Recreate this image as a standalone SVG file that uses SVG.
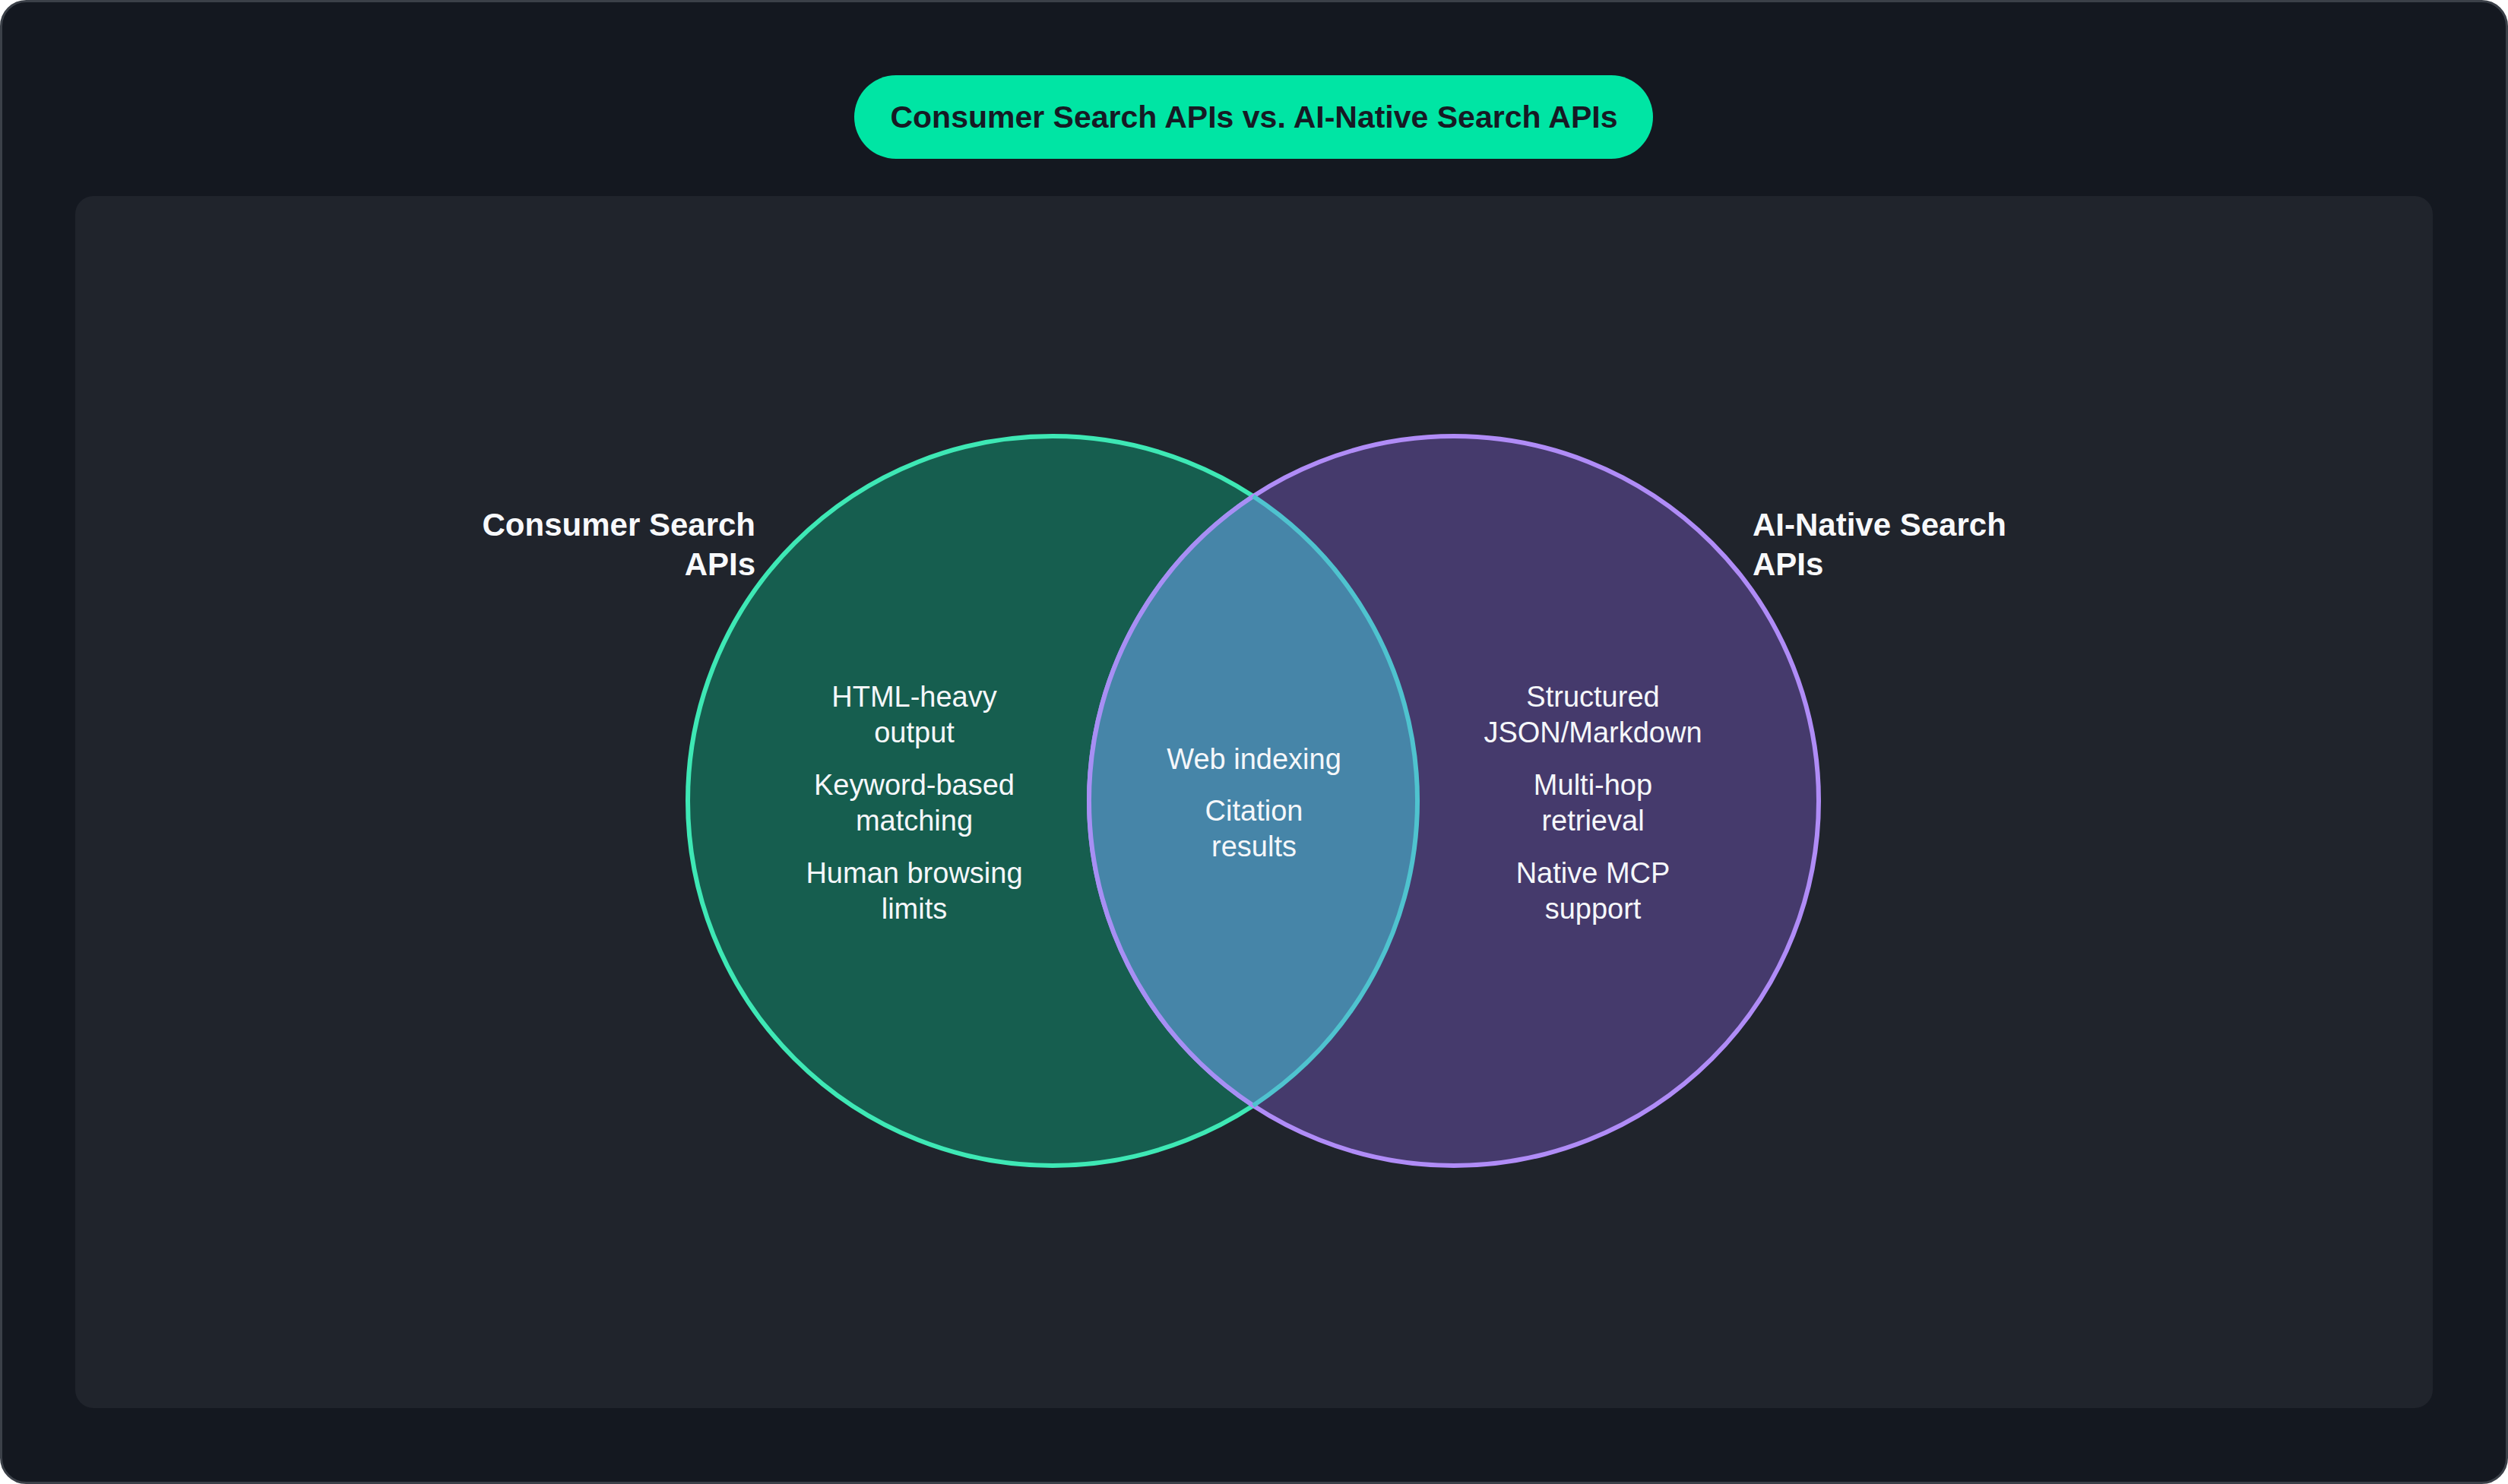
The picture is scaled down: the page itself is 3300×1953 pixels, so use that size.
<svg xmlns="http://www.w3.org/2000/svg" width="3300" height="1953" viewBox="0 0 3300 1953">
  <style>
    .item { font-family: "Liberation Sans", Arial, sans-serif; font-size: 38px; fill: #f5f7fa; text-anchor: middle; }
    .setlabel { font-family: "Liberation Sans", Arial, sans-serif; font-size: 42px; font-weight: bold; fill: #f8f9fb; }
    .title { font-family: "Liberation Sans", Arial, sans-serif; font-size: 41px; font-weight: bold; fill: #161a24; text-anchor: middle; }
  </style>
  <rect x="1.5" y="1.5" width="3297" height="1950" rx="33" fill="#141820" stroke="#3b4048" stroke-width="3"/>
  <rect x="99" y="258" width="3102" height="1595" rx="24" fill="#20242c"/>

  <g id="title">
    <rect x="1124" y="99" width="1051" height="110" rx="55" fill="#00e5a4"/>
    <text class="title" x="1650" y="168">Consumer Search APIs vs. AI-Native Search APIs</text>
  </g>

  <g id="consumer">
    <circle cx="1385" cy="1054" r="480" fill="#165e4f" stroke="#3ee8b5" stroke-width="6"/>
  </g>
  <g id="ainative">
    <circle cx="1913" cy="1054" r="480" fill="#453a6c" stroke="#b08cf7" stroke-width="6"/>
  </g>
  <g id="overlap">
    <path d="M1649 653.1 A480 480 0 0 0 1649 1454.9 A480 480 0 0 0 1649 653.1 Z" fill="#4685a8"/>
    <path d="M1649 653.1 A480 480 0 0 0 1649 1454.9" fill="none" stroke="#a78ff4" stroke-width="6"/>
    <path d="M1649 1454.9 A480 480 0 0 0 1649 653.1" fill="none" stroke="#4fc3cf" stroke-width="6"/>
  </g>

  <g id="consumer-label">
    <text class="setlabel" text-anchor="end" x="994" y="705">Consumer Search</text>
    <text class="setlabel" text-anchor="end" x="994" y="757">APIs</text>
  </g>
  <g id="ainative-label">
    <text class="setlabel" x="2306" y="705">AI-Native Search</text>
    <text class="setlabel" x="2306" y="757">APIs</text>
  </g>

  <g id="consumer-items">
    <text class="item" x="1203" y="930">HTML-heavy</text>
    <text class="item" x="1203" y="977">output</text>
    <text class="item" x="1203" y="1046">Keyword-based</text>
    <text class="item" x="1203" y="1093">matching</text>
    <text class="item" x="1203" y="1162">Human browsing</text>
    <text class="item" x="1203" y="1209">limits</text>
  </g>
  <g id="overlap-items">
    <text class="item" x="1650" y="1012">Web indexing</text>
    <text class="item" x="1650" y="1080">Citation</text>
    <text class="item" x="1650" y="1127">results</text>
  </g>
  <g id="ainative-items">
    <text class="item" x="2096" y="930">Structured</text>
    <text class="item" x="2096" y="977">JSON/Markdown</text>
    <text class="item" x="2096" y="1046">Multi-hop</text>
    <text class="item" x="2096" y="1093">retrieval</text>
    <text class="item" x="2096" y="1162">Native MCP</text>
    <text class="item" x="2096" y="1209">support</text>
  </g>
  <g id="connectors"/>
</svg>
